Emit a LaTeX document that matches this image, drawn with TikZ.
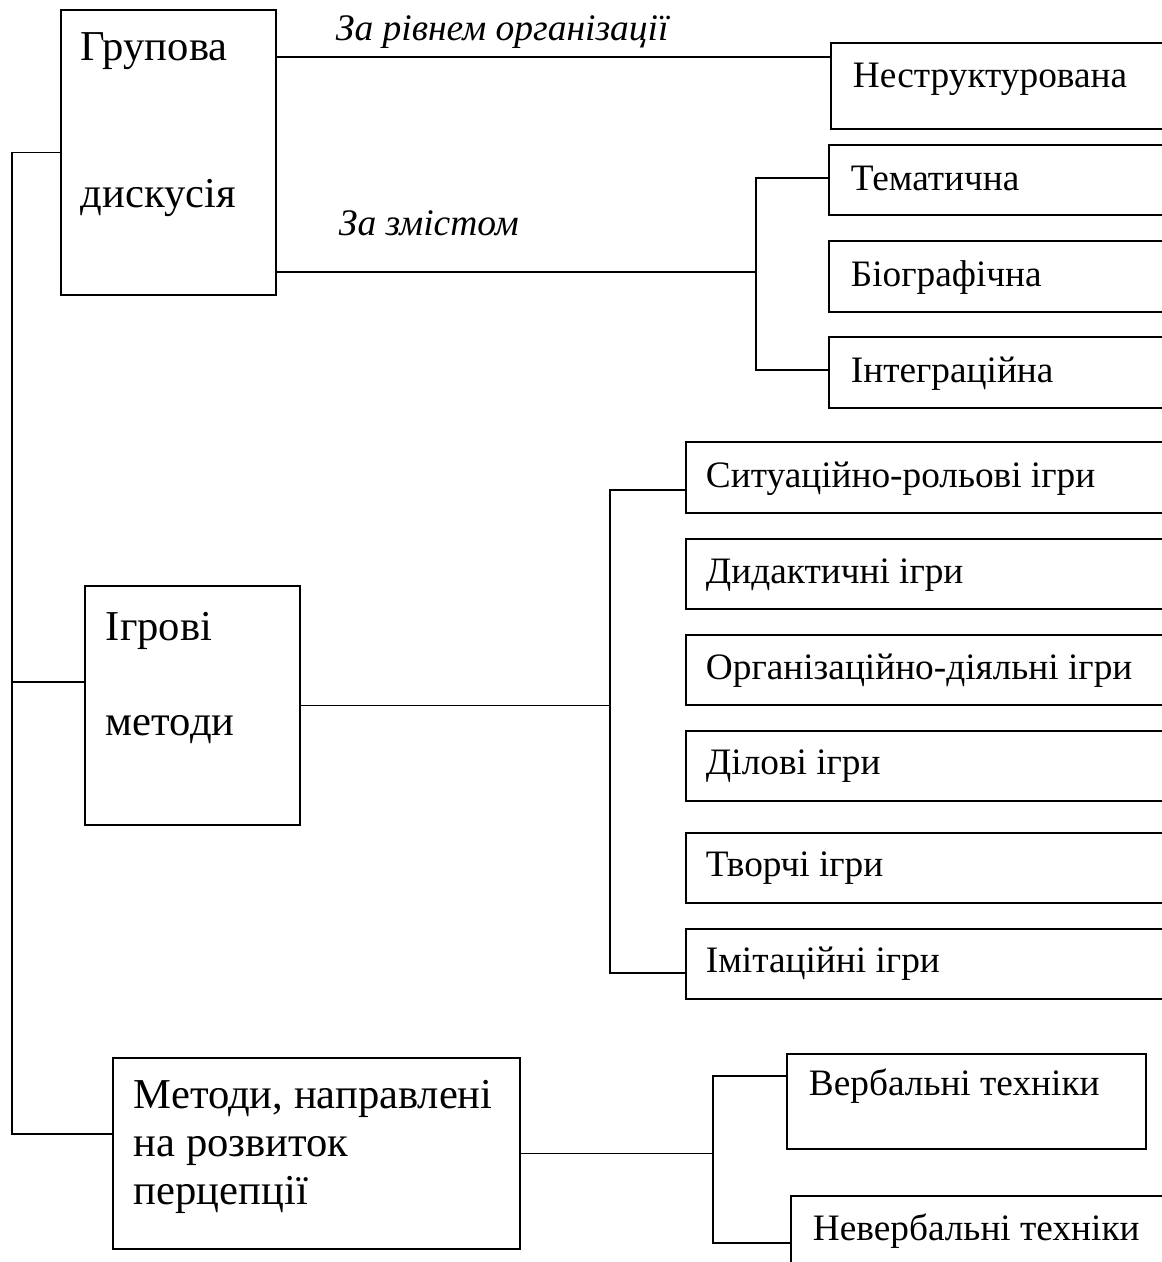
\documentclass[tikz,border=0pt]{standalone}
\usepackage{fontspec}
\setmainfont{Liberation Serif}
\usepackage{tikz}

\begin{document}
\begin{tikzpicture}[x=1pt,y=-1pt,line width=1.9pt,line join=miter,
    box/.style={draw,inner sep=0pt,anchor=north west},
    lbl/.style={anchor=base west,inner sep=0pt,font=\fontsize{37.3}{44}\selectfont},
    big/.style={anchor=base west,inner sep=0pt,font=\fontsize{42.6}{48}\selectfont},
    crit/.style={anchor=base west,inner sep=0pt,font=\fontsize{37.5}{44}\selectfont\itshape}]
      \path[use as bounding box,clip] (0,0) rectangle (1162,1262);
      % group discussion
      \node[box,minimum width=215,minimum height=285] (grp) at (60,9) {};
      \node[big] (grp1) at (80,60) {Групова};
      \node[big] (grp2) at (80,207) {дискусія};
      \node[crit] (crorg) at (335,40) {За рівнем організації};
      \node[crit] (crzm) at (338,235) {За змістом};
      \node[box,minimum width=360,minimum height=86] (nes) at (830,42) {};
      \node[lbl] (nes-t) at (852,87) {Неструктурована};
      \node[box,minimum width=360,minimum height=70] (tem) at (828,144) {};
      \node[lbl] (tem-t) at (850,190) {Тематична};
      \node[box,minimum width=360,minimum height=71] (bio) at (828,240) {};
      \node[lbl] (bio-t) at (850,286) {Біографічна};
      \node[box,minimum width=360,minimum height=71] (int) at (828,336) {};
      \node[lbl] (int-t) at (850,382) {Інтеграційна};
      \draw ([yshift=-48pt]grp.north east) -- ([yshift=-15pt]nes.north west);
      \draw ([yshift=2pt]tem.west) -- ++(-72,0) coordinate (tb) |- ([yshift=2.5pt]int.west);
      \draw ([yshift=-263pt]grp.north east) -| (tb);
      % games
      \node[box,minimum width=215,minimum height=239] (gam) at (84,585) {};
      \node[big] (gam1) at (105,640) {Ігрові};
      \node[big] (gam2) at (105,735) {методи};
      \node[box,minimum width=500,minimum height=71] (g1) at (685,441) {};
      \node[lbl] (g1-t) at (705,487) {Ситуаційно-рольові ігри};
      \node[box,minimum width=500,minimum height=70] (g2) at (685,538) {};
      \node[lbl] (g2-t) at (705,583) {Дидактичні ігри};
      \node[box,minimum width=500,minimum height=70] (g3) at (685,634) {};
      \node[lbl] (g3-t) at (705,679) {Організаційно-діяльні ігри};
      \node[box,minimum width=500,minimum height=70] (g4) at (685,730) {};
      \node[lbl] (g4-t) at (705,774) {Ділові ігри};
      \node[box,minimum width=500,minimum height=70] (g5) at (685,832) {};
      \node[lbl] (g5-t) at (705,876) {Творчі ігри};
      \node[box,minimum width=500,minimum height=70] (g6) at (685,928) {};
      \node[lbl] (g6-t) at (705,972) {Імітаційні ігри};
      \draw ([yshift=-12.5pt]g1.west) -- ++(-75,0) coordinate (gb) |- ([yshift=-9pt]g6.west);
      \draw (gam.east) -| (gb);
      % perception
      \node[box,minimum width=407,minimum height=191] (mtd) at (112,1057) {};
      \node[anchor=north west,inner sep=0pt,align=left,font=\fontsize{42.6}{48}\selectfont] (mtd-t) at (133,1079)
        {Методи, направлені\\на розвиток\\перцепції};
      \node[box,minimum width=359,minimum height=95] (ver) at (786,1053) {};
      \node[lbl] (ver-t) at (808,1095) {Вербальні техніки};
      \node[box,minimum width=400,minimum height=100] (nev) at (790,1195) {};
      \node[lbl] (nev-t) at (812,1240) {Невербальні техніки};
      \draw ([yshift=25.5pt]ver.west) -- ++(-73,0) coordinate (vb) |- ([yshift=-48pt]nev.north west);
      \draw (mtd.east) -| (vb);
      % trunk
      \draw (grp.west) -- ++(-48,0) |- ([yshift=19.5pt]mtd.west);
      \draw ([yshift=23.5pt]gam.west) -- ++(-72,0);
    \end{tikzpicture}
\end{document}
